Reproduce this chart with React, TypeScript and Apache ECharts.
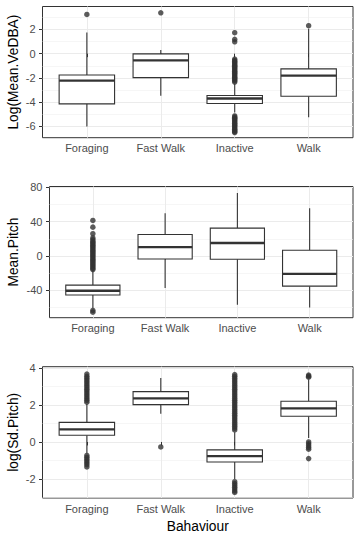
import React, { useEffect, useRef } from 'react';
import * as echarts from 'echarts';

const CATEGORIES = ['Foraging', 'Fast Walk', 'Inactive', 'Walk'];

// box stats per category: [lower whisker, Q1, median, Q3, upper whisker]
const VEDBA_BOX = [
  [-6.02, -4.15, -2.23, -1.76, 1.76],
  [-3.49, -1.98, -0.55, -0.02, 0.3],
  [-4.87, -4.12, -3.71, -3.46, -2.5],
  [-5.25, -3.52, -1.81, -1.26, 2.05],
];
const VEDBA_OUTLIERS = [
  [3.24],
  [3.38],
  [1.73, 1.18, 0.98, -0.45, -0.55, -0.65, -0.75, -0.85, -0.95, -1.05, -1.15, -1.25, -1.35, -1.45, -1.55,
    -1.65, -1.75, -1.85, -1.95, -2.05, -2.15, -2.25, -2.35,
    -5.15, -5.25, -5.35, -5.45, -5.55, -5.65, -5.75, -5.85, -5.95, -6.05, -6.15, -6.25, -6.35, -6.45, -6.52],
  [2.31],
];
const VEDBA_TICKS = [-6, -4, -2, 0, 2];
const VEDBA_MINOR = [-5, -3, -1, 1, 3];

const PITCH_BOX = [
  [-61, -45.6, -40.6, -34, -17],
  [-37.5, -3.5, 10.4, 25.1, 49.9],
  [-56.9, -3.9, 15.1, 32.5, 73.5],
  [-60, -35.2, -20.9, 6.6, 55.7],
];
const PITCH_OUTLIERS = [
  [41.4, 33.6, 25.9, 21, 19, 17, 15.5, 14, 12.5, 11, 9.5, 8, 6.5, 5, 3.5, 2, 0.5, -1, -2.5, -4, -5.5, -7,
    -8.5, -10, -11.5, -13, -14.5, -15.8, -63.5, -65.5],
  [],
  [],
  [],
];
const PITCH_TICKS = [-40, 0, 40, 80];
const PITCH_MINOR = [-60, -20, 20, 60];

const SDPITCH_BOX = [
  [-0.62, 0.36, 0.68, 1.06, 2.05],
  [1.53, 2.02, 2.36, 2.72, 3.46],
  [-2.0, -1.08, -0.77, -0.43, 0.52],
  [0.22, 1.39, 1.82, 2.2, 3.38],
];
const SDPITCH_OUTLIERS = [
  [2.15, 2.25, 2.35, 2.45, 2.55, 2.65, 2.75, 2.85, 2.95, 3.05, 3.15, 3.25, 3.35, 3.45, 3.55, 3.67,
    -0.73, -0.83, -0.93, -1.03, -1.13, -1.23, -1.35],
  [-0.27],
  [0.65, 0.75, 0.85, 0.95, 1.05, 1.15, 1.25, 1.35, 1.45, 1.55, 1.65, 1.75, 1.85, 1.95, 2.05, 2.15, 2.25,
    2.35, 2.45, 2.55, 2.65, 2.75, 2.85, 2.95, 3.05, 3.15, 3.25, 3.35, 3.45, 3.55, 3.64,
    -2.15, -2.25, -2.35, -2.45, -2.55, -2.65, -2.73],
  [3.5, 3.56, 3.62, 0.0, -0.1, -0.2, -0.3, -0.39, -0.9],
];
const SDPITCH_TICKS = [-2, 0, 2, 4];
const SDPITCH_MINOR = [-3, -1, 1, 3];

const FONT = '"Liberation Sans", Arial, Helvetica, sans-serif';

const PANELS = [
  { box: VEDBA_BOX, out: VEDBA_OUTLIERS, ticks: VEDBA_TICKS, minor: VEDBA_MINOR, title: 'Log(Mean.VeDBA)',
    min: -6.95, max: 3.9, grid: { left: 42.5, top: 6.5, width: 310.5, height: 131.2 }, nameGap: 22.5 },
  { box: PITCH_BOX, out: PITCH_OUTLIERS, ticks: PITCH_TICKS, minor: PITCH_MINOR, title: 'Mean.Pitch',
    min: -72, max: 81, grid: { left: 49.5, top: 186.5, width: 303.5, height: 131.2 }, nameGap: 29.5 },
  { box: SDPITCH_BOX, out: SDPITCH_OUTLIERS, ticks: SDPITCH_TICKS, minor: SDPITCH_MINOR, title: 'log(Sd.Pitch)',
    min: -3.03, max: 4.07, grid: { left: 42.5, top: 366.7, width: 310.5, height: 131.3 }, nameGap: 22.5 },
];

const CAT_POS = CATEGORIES.map((_, i) => i + 1);

export default function App() {
  const ref = useRef<HTMLDivElement>(null);
  useEffect(() => {
    if (!ref.current) return;
    const chart = echarts.init(ref.current, undefined, { renderer: 'svg' });
    const grids = PANELS.map((p) => ({
      ...p.grid,
      show: true,
      borderColor: '#333333',
      borderWidth: 1,
      backgroundColor: 'transparent',
      containLabel: false,
      outerBoundsMode: 'none',
    }));
    const xAxes = PANELS.map((p, i) => ({
      gridIndex: i,
      type: 'value',
      min: 0.4,
      max: 4.6,
      axisLine: { show: false },
      axisTick: { show: true, customValues: CAT_POS, length: 3.5, lineStyle: { color: '#333333', width: 1 } },
      axisLabel: {
        customValues: CAT_POS,
        formatter: (v: number) => CATEGORIES[Math.round(v) - 1] ?? '',
        color: '#4D4D4D',
        fontSize: 11,
        fontFamily: FONT,
        margin: 5,
      },
      splitLine: { show: true, lineStyle: { color: '#EBEBEB', width: 1 } },
      name: i === 2 ? 'Bahaviour' : '',
      nameLocation: 'middle',
      nameGap: 21,
      nameMoveOverlap: false,
      nameTextStyle: { color: '#000000', fontSize: 13.8, fontFamily: FONT },
    }));
    const yAxes: any[] = [];
    PANELS.forEach((p, i) => {
      yAxes.push({
        gridIndex: i,
        type: 'value',
        min: p.min,
        max: p.max,
        position: 'left',
        axisLine: { show: false },
        axisTick: { show: true, customValues: p.ticks, length: 3.5, lineStyle: { color: '#333333', width: 1 } },
        axisLabel: { customValues: p.ticks, color: '#4D4D4D', fontSize: 11, fontFamily: FONT, margin: 7 },
        splitLine: { show: true, lineStyle: { color: '#EBEBEB', width: 1 } },
        name: p.title,
        nameLocation: 'middle',
        nameGap: p.nameGap,
        nameMoveOverlap: false,
        nameTextStyle: { color: '#000000', fontSize: 13.8, fontFamily: FONT },
      });
      yAxes.push({
        gridIndex: i,
        type: 'value',
        min: p.min,
        max: p.max,
        position: 'left',
        axisLine: { show: false },
        axisTick: { show: false, customValues: p.minor },
        axisLabel: { show: false, customValues: p.minor },
        splitLine: { show: true, lineStyle: { color: '#F0F0F0', width: 0.6 } },
      });
    });
    const series: any[] = [];
    PANELS.forEach((p, i) => {
      series.push({
        type: 'custom',
        xAxisIndex: i,
        yAxisIndex: 2 * i,
        encode: { x: 0, y: [1, 2, 3, 4, 5] },
        data: p.box.map((b, k) => [k + 1, ...b]),
        renderItem: (params: any, api: any) => {
          const x = api.value(0);
          const lo = api.coord([x, api.value(1)]);
          const q1 = api.coord([x, api.value(2)]);
          const med = api.coord([x, api.value(3)]);
          const q3 = api.coord([x, api.value(4)]);
          const hi = api.coord([x, api.value(5)]);
          const w = api.size([0.75, 0])[0];
          const cx = lo[0];
          const stroke = '#333333';
          return {
            type: 'group',
            children: [
              { type: 'line', shape: { x1: cx, y1: hi[1], x2: cx, y2: q3[1] }, style: { stroke, lineWidth: 1.1 } },
              { type: 'line', shape: { x1: cx, y1: q1[1], x2: cx, y2: lo[1] }, style: { stroke, lineWidth: 1.1 } },
              {
                type: 'rect',
                shape: { x: cx - w / 2, y: q3[1], width: w, height: q1[1] - q3[1] },
                style: { fill: '#FFFFFF', stroke, lineWidth: 1.1 },
              },
              {
                type: 'line',
                shape: { x1: cx - w / 2, y1: med[1], x2: cx + w / 2, y2: med[1] },
                style: { stroke, lineWidth: 2.3 },
              },
            ],
          };
        },
        z: 2,
      });
      series.push({
        type: 'scatter',
        xAxisIndex: i,
        yAxisIndex: 2 * i,
        symbol: 'circle',
        symbolSize: 5.5,
        itemStyle: { color: '#333333' },
        data: p.out.flatMap((ys, k) => ys.map((y) => [k + 1, y])),
        z: 3,
      });
    });
    chart.setOption({
      animation: false,
      backgroundColor: '#FFFFFF',
      grid: grids,
      xAxis: xAxes,
      yAxis: yAxes,
      series,
    });
    return () => chart.dispose();
  }, []);
  return <div ref={ref} style={{ position: 'absolute', left: 0, top: 0, width: 360, height: 540 }} />;
}
